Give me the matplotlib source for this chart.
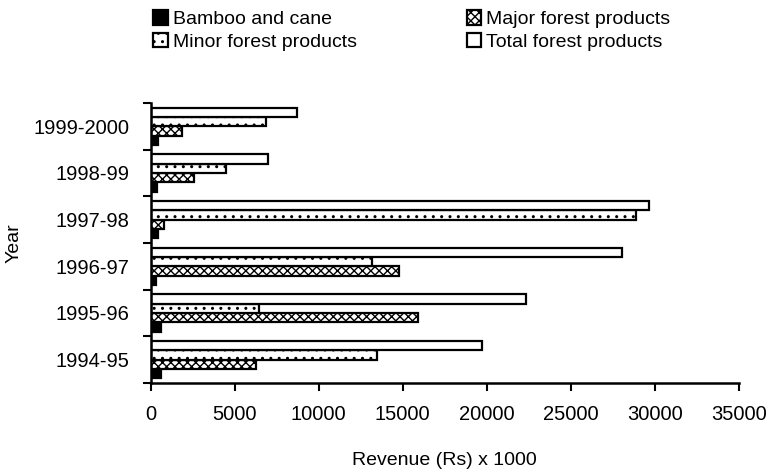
import numpy as np
import matplotlib.pyplot as plt

plt.rcParams['font.family'] = ['Liberation Sans', 'DejaVu Sans']
plt.rcParams['hatch.linewidth'] = 1.0

# Data (Revenue in Rs x 1000)
years = ['1994-95', '1995-96', '1996-97', '1997-98', '1998-99', '1999-2000']
bamboo = [600, 600, 350, 420, 360, 450]
major = [6250, 15900, 14800, 800, 2600, 1900]
minor = [13500, 6450, 13150, 28900, 4500, 6850]
total = [19750, 22350, 28050, 29650, 7000, 8700]

y = np.arange(len(years))
h = 0.2

fig = plt.figure(figsize=(7.72, 4.74), dpi=100)
ax = fig.add_axes([0.195, 0.192, 0.762, 0.591])

ekw = dict(edgecolor='black', linewidth=1.6)
b1 = ax.barh(y - 1.5*h, bamboo, h, color='black', label='Bamboo and cane', **ekw)
b2 = ax.barh(y - 0.5*h, major, h, color='white', hatch='xxxx', label='Major forest products', **ekw)
b3 = ax.barh(y + 0.5*h, minor, h, color='white', hatch='..', label='Minor forest products', **ekw)
b4 = ax.barh(y + 1.5*h, total, h, color='white', label='Total forest products', **ekw)

ax.set_xlim(0, 35000)
ax.set_ylim(-0.5, len(years) - 0.5)
ax.set_xticks(np.arange(0, 35001, 5000))
ax.set_yticks(y)
ax.set_yticklabels(years)
ax.set_yticks(np.arange(-0.5, len(years), 1), minor=True)
ax.tick_params(axis='y', which='major', length=0, pad=15, labelsize=14.5)
ax.tick_params(axis='y', which='minor', length=6, width=1.5, direction='out')
ax.tick_params(axis='x', length=6, width=1.5, direction='out', pad=10, labelsize=14.5)

for s in ['top', 'right']:
    ax.spines[s].set_visible(False)
for s in ['left', 'bottom']:
    ax.spines[s].set_linewidth(1.8)

ax.set_xlabel('Revenue (Rs) x 1000', fontsize=14)
ax.xaxis.set_label_coords(0.5, -0.245)
ax.set_ylabel('Year', fontsize=14)
ax.yaxis.set_label_coords(-0.218, 0.5)

fig.legend([b1, b3, b2, b4],
           ['Bamboo and cane', 'Minor forest products', 'Major forest products', 'Total forest products'],
           ncol=2, loc='upper left', bbox_to_anchor=(0.176, 1.015), frameon=False,
           fontsize=14, handlelength=0.75, handleheight=0.75, handletextpad=0.25,
           columnspacing=5.65, labelspacing=0.25)

fig.savefig('out.png', dpi=100)
